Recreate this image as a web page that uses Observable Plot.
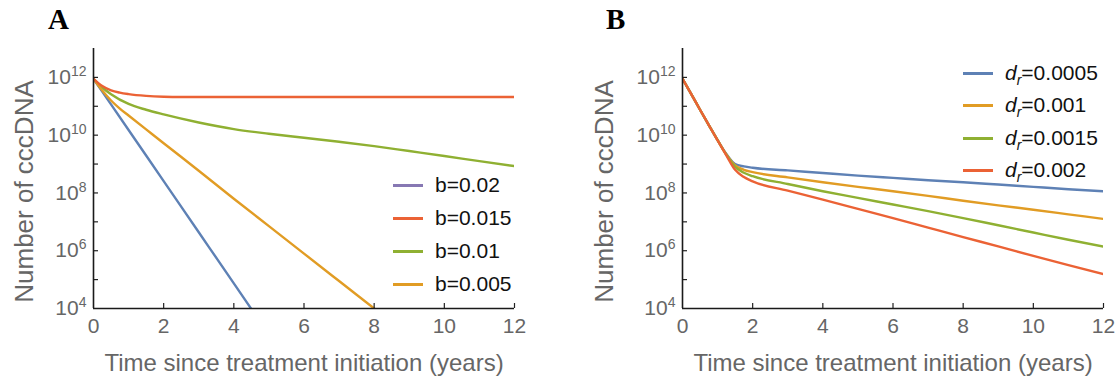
<!DOCTYPE html>
<html><head><meta charset="utf-8">
<script src="https://cdn.jsdelivr.net/npm/d3@7"></script>
<script src="https://cdn.jsdelivr.net/npm/@observablehq/plot@0.6"></script>
<style>
body{margin:0;background:#fff;}
#wrap{position:relative;width:1119px;height:379px;overflow:hidden;font-family:"Liberation Sans",Arial,sans-serif;}
.panel{position:absolute;top:0;}
.letter{position:absolute;font-family:"Liberation Serif","Times New Roman",serif;font-weight:bold;font-size:29px;line-height:1;}
.lrow{position:absolute;height:24px;display:flex;align-items:center;font-size:21px;color:#111;white-space:nowrap;}
.sw{display:inline-block;width:30px;height:0;border-top:3px solid;margin-right:12px;}
.sub{font-size:14px;position:relative;top:5px;font-style:italic;}
</style></head>
<body><div id="wrap"></div>
<script>
// ---------------- DATA ----------------
const xTicks = [0, 2, 4, 6, 8, 10, 12];
const yMajor = [1e4, 1e6, 1e8, 1e10, 1e12];
const yMinor = [1e5, 1e7, 1e9, 1e11];
const xTitle = "Time since treatment initiation (years)";
const yTitle = "Number of cccDNA";

// Panel A (log10 of cccDNA)
const aNames = ["b=0.02", "b=0.015", "b=0.01", "b=0.005"];
const aLegendColors = ["#8778B3", "#EB6235", "#8FB032", "#E19C24"];
const aLineColors = ["#5E81B5", "#EB6235", "#8FB032", "#E19C24"];
const a002T = [0, 1, 2, 3, 4, 4.49];
const a002V = [11.95, 10.18, 8.41, 6.64, 4.87, 4.0];
const a0015T = [0, 0.25, 0.5, 0.75, 1, 1.5, 2, 2.5, 12];
const a0015V = [11.95, 11.7, 11.55, 11.47, 11.42, 11.36, 11.33, 11.32, 11.32];
const a001T = [0, 0.25, 0.5, 1, 1.5, 2, 3, 4, 5, 6, 7, 8, 9, 10, 11, 12];
const a001V = [11.95, 11.65, 11.42, 11.08, 10.88, 10.72, 10.44, 10.21, 10.05, 9.91, 9.77, 9.62, 9.45, 9.28, 9.1, 8.93];
const a0005T = [0, 0.25, 0.5, 0.75, 1, 1.5, 2, 3, 4, 5, 6, 7, 8];
const a0005V = [11.95, 11.55, 11.2, 10.92, 10.68, 10.2, 9.72, 8.77, 7.8, 6.85, 5.9, 4.95, 4.0];

// Panel B (log10 of cccDNA)
const bNames = ["0.0005", "0.001", "0.0015", "0.002"];
const bColors = ["#5E81B5", "#E19C24", "#8FB032", "#EB6235"];
const bT = [0, 0.25, 0.5, 0.75, 1, 1.25, 1.5, 1.75, 2, 3, 4, 5, 6, 7, 8, 9, 10, 11, 12];
const b00005V = [11.95, 11.42, 10.88, 10.35, 9.83, 9.35, 9.0, 8.92, 8.87, 8.78, 8.69, 8.6, 8.52, 8.44, 8.37, 8.29, 8.21, 8.13, 8.06];
const b0001V  = [11.95, 11.42, 10.88, 10.35, 9.83, 9.33, 8.95, 8.8, 8.72, 8.54, 8.37, 8.21, 8.06, 7.9, 7.73, 7.57, 7.42, 7.26, 7.1];
const b00015V = [11.95, 11.42, 10.88, 10.35, 9.83, 9.32, 8.9, 8.7, 8.58, 8.31, 8.06, 7.83, 7.6, 7.37, 7.13, 6.88, 6.63, 6.38, 6.14];
const b0002V  = [11.95, 11.42, 10.88, 10.35, 9.82, 9.3, 8.8, 8.55, 8.4, 8.08, 7.77, 7.45, 7.13, 6.8, 6.47, 6.15, 5.82, 5.5, 5.19];

// ---------------- BUILD ----------------
function rows(name, T, V) { return T.map((t, i) => ({s: name, t, v: Math.pow(10, V[i])})); }

const dataA = [
  ...rows(aNames[0], a002T, a002V),
  ...rows(aNames[2], a001T, a001V),
  ...rows(aNames[3], a0005T, a0005V),
  ...rows(aNames[1], a0015T, a0015V)
];
const bSeries = [b00005V, b0001V, b00015V, b0002V];
const dataB = bNames.flatMap((n, i) => rows(n, bT, bSeries[i]));

const W = 560, H = 379, MT = 48, MB = 71;
const FH = H - MT - MB;

function makePanel({data, names, colors, mL, mR, titleDx}) {
  const FW = W - mL - mR;
  const svg = Plot.plot({
    width: W, height: H,
    marginLeft: mL, marginRight: mR, marginTop: MT, marginBottom: MB,
    style: {fontFamily: "'Liberation Sans', Arial, sans-serif", fontSize: "21px", color: "#666", background: "transparent", overflow: "visible"},
    x: {domain: [0, 12]},
    y: {type: "log", domain: [1e4, 1e13]},
    color: {domain: names, range: colors},
    marks: [
      Plot.line(data, {x: "t", y: "v", z: "s", stroke: "s", strokeWidth: 2.4, curve: "monotone-x", clip: true}),
      Plot.tickX(xTicks.slice(1), {x: d => d, insetTop: FH - 5, stroke: "#222", strokeWidth: 1.2}),
      Plot.tickY(yMinor.concat(yMajor.slice(1)), {y: d => d, insetRight: FW - 5, stroke: "#222", strokeWidth: 1.2}),
      Plot.ruleX([0], {stroke: "#1a1a1a", strokeWidth: 1.6}),
      Plot.ruleY([1e4], {stroke: "#1a1a1a", strokeWidth: 1.6}),
      Plot.axisX({ticks: xTicks, tickSize: 0, tickPadding: 10, label: null, tickFormat: d => String(d), fill: "#666", fontSize: 21}),
      Plot.axisY({ticks: yMajor, tickSize: 0, tickPadding: 7, label: null, tickFormat: d => "10^" + Math.round(Math.log10(d)), fill: "#666", fontSize: 21}),
      Plot.text([xTitle], {frameAnchor: "bottom", lineAnchor: "middle", textAnchor: "middle", dy: 55, fontSize: 24, fill: "#666"}),
      Plot.text([yTitle], {frameAnchor: "left", lineAnchor: "middle", textAnchor: "middle", rotate: -90, dx: titleDx, dy: 13, fontSize: 26, fill: "#666"})
    ]
  });
  d3.select(svg).selectAll('g[aria-label="y-axis tick label"] text').each(function() {
    const txt = this.textContent;
    const k = txt.split("^")[1];
    const sel = d3.select(this);
    sel.text("10");
    sel.append("tspan").attr("dy", -8).attr("font-size", 14).text(k);
  });
  return svg;
}

const wrap = document.getElementById("wrap");

const svgA = makePanel({data: dataA, names: aNames, colors: aLineColors, mL: 93, mR: 46, titleDx: -69});
svgA.classList.add("panel"); svgA.style.left = "0px";
wrap.appendChild(svgA);

const svgB = makePanel({data: dataB, names: bNames, colors: bColors, mL: 123, mR: 16, titleDx: -78});
svgB.classList.add("panel"); svgB.style.left = "559px";
wrap.appendChild(svgB);

// Letters
function letter(t, x, y) {
  const d = document.createElement("div");
  d.className = "letter"; d.textContent = t;
  d.style.left = x + "px"; d.style.top = y + "px";
  wrap.appendChild(d);
}
letter("A", 48, 5);
letter("B", 606, 5);

// Legends
const aRowsY = [185, 218, 251, 284];
aNames.forEach((n, i) => {
  const r = document.createElement("div");
  r.className = "lrow";
  r.style.left = "393px"; r.style.top = (aRowsY[i] - 12) + "px";
  r.innerHTML = `<span class="sw" style="border-color:${aLegendColors[i]}"></span><span>${n}</span>`;
  wrap.appendChild(r);
});
const bRowsY = [73, 105, 138, 170];
bNames.forEach((n, i) => {
  const r = document.createElement("div");
  r.className = "lrow";
  r.style.left = "963px"; r.style.top = (bRowsY[i] - 12) + "px";
  r.innerHTML = `<span class="sw" style="border-color:${bColors[i]}"></span><span><i>d</i><span class="sub">r</span>=${n}</span>`;
  wrap.appendChild(r);
});
</script></body></html>
